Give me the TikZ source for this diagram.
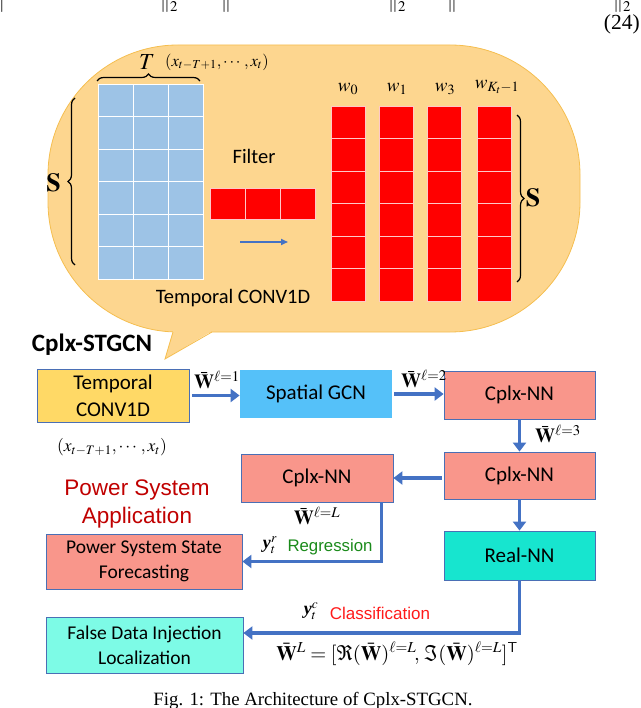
\documentclass[tikz,border=0pt]{standalone}
\usepackage{mathptmx}
\usepackage{amsmath}
\usepackage{fontspec}
\setmainfont{Liberation Serif}
\newfontfamily\calfont{Carlito}
\newfontfamily\arialfont{Liberation Sans}
\usetikzlibrary{arrows.meta,decorations.pathreplacing,calc}
\definecolor{bub}{HTML}{FDD68F}
\definecolor{bubd}{HTML}{F5BE4F}
\definecolor{gridb}{HTML}{9DC3E6}
\definecolor{redl}{HTML}{FFC8C8}
\definecolor{tcfill}{HTML}{FFD966}
\definecolor{sgfill}{HTML}{55C1F9}
\definecolor{cpfill}{HTML}{F9968B}
\definecolor{rnfill}{HTML}{17E5CF}
\definecolor{fdifill}{HTML}{7DFBE6}
\definecolor{boxb}{HTML}{4A6FB5}
\definecolor{arrc}{HTML}{4472C4}
\definecolor{psa}{HTML}{C00000}
\definecolor{reg}{HTML}{1A8A1A}
\definecolor{cls}{HTML}{FF1A1A}
\begin{document}
\begin{tikzpicture}[x=1pt,y=-1pt,
  box/.style={draw=boxb,line width=0.8pt,inner sep=0pt,align=center,font=\calfont\fontsize{21}{27}\selectfont},
  arr/.style={draw=arrc,line width=3.5pt,-{Triangle[length=9pt,width=13pt]}},
  brc/.style={decorate,decoration={brace,amplitude=7pt},line width=1.2pt},
  cell/.style={draw=white,line width=0.8pt},
  rcell/.style={draw=redl,line width=0.8pt,fill=red},
  mlab/.style={inner sep=0pt,font=\fontsize{17}{17}\selectfont},
  wlab/.style={inner sep=0pt,font=\fontsize{20}{20}\selectfont},
  frag/.style={anchor=base west,inner sep=0pt,font=\fontsize{20}{20}\selectfont}]
\useasboundingbox (0,0) rectangle (640,708);
\clip (0,0) rectangle (640,708);
% cut-off fragments at the top
\node[frag] (fa) at (-1,8) {$|$};
\node[frag] (fb) at (160,8) {$\|_2$};
\node[frag] (fc) at (221,8) {$\|$};
\node[frag] (fd) at (388,8) {$\|_2$};
\node[frag] (fe) at (447,8) {$\|$};
\node[frag] (ff) at (613,8) {$\|_2$};
\node[anchor=base east,inner sep=0pt,font=\fontsize{21.5}{22}\selectfont] (eqn) at (640,30) {(24)};
% bubble
\draw[fill=bub,draw=bubd,line width=0.8pt,rounded corners=130pt] (48,45) rectangle (580,332);
\fill[bub] (173,331) -- (165,359) -- (212,331) -- cycle;
\draw[bub,line width=1.8pt] (174.5,332) -- (210.5,332);
\draw[bubd,line width=0.8pt] (173,332) -- (165,359) -- (212,332);
% input grid
\foreach \i in {0,1,2}
  \foreach \j in {0,...,5}
    \draw[cell,fill=gridb] (98+35*\i,84+32.5*\j) rectangle ++(35,32.5);
% filter
\foreach \i in {0,1,2}
  \draw[rcell] (210+35*\i,188) rectangle ++(35,31);
\draw[draw=arrc,line width=1.6pt,-{Triangle[length=7pt,width=6pt]}] (240,242) -- (288,242);
% output columns
\foreach \x in {331,379,427,477}
  \foreach \j in {0,...,5}
    \draw[rcell] (\x,106+32.5*\j) rectangle ++(34,32.5);
% braces
\draw[brc] (75,265) -- (75,98);
\draw[brc] (97,81) -- (200,81);
\draw[brc] (517,115) -- (517,282);
% bubble texts
\node[inner sep=0pt,font=\fontsize{26}{26}\selectfont] (sl) at (53.5,183) {$\mathbf{S}$};
\node[inner sep=0pt,font=\fontsize{26}{26}\selectfont] (sr) at (533,198) {$\mathbf{S}$};
\node[inner sep=0pt,font=\fontsize{23}{23}\selectfont] (tl) at (147,62) {$T$};
\node[inner sep=0pt,font=\fontsize{16.5}{16.5}\selectfont] (xt) at (217,62) {$(x_{t-T+1},\cdots,x_t)$};
\node[inner sep=0pt,font=\fontsize{19}{19}\selectfont] (w0) at (348,89) {$w_0$};
\node[inner sep=0pt,font=\fontsize{19}{19}\selectfont] (w1) at (397,89) {$w_1$};
\node[inner sep=0pt,font=\fontsize{19}{19}\selectfont] (w3) at (445,89) {$w_3$};
\node[inner sep=0pt,font=\fontsize{19}{19}\selectfont] (wk) at (497,87) {$w_{K_t-1}$};
\node[inner sep=0pt,font=\calfont\fontsize{20.5}{20.5}\selectfont] (fl) at (254,156) {Filter};
\node[inner sep=0pt,font=\calfont\fontsize{20.5}{20.5}\selectfont] (tcv) at (233,298) {Temporal CONV1D};
% flow chart
\node[inner sep=0pt,font=\calfont\bfseries\fontsize{25}{25}\selectfont] (title) at (92,345) {Cplx-STGCN};
\node[box,fill=tcfill,minimum width=152pt,minimum height=53pt] (tc) at (113,395.5) {Temporal\\CONV1D};
\node[box,draw=none,fill=sgfill,minimum width=152pt,minimum height=48pt] (sg) at (316,394) {Spatial GCN};
\node[box,fill=cpfill,minimum width=151pt,minimum height=48pt] (c1) at (519.5,395) {Cplx-NN};
\node[box,fill=cpfill,minimum width=151pt,minimum height=47pt] (c2) at (519.5,475.5) {Cplx-NN};
\node[box,fill=cpfill,minimum width=152pt,minimum height=48pt] (c3) at (317,478) {Cplx-NN};
\node[box,fill=rnfill,minimum width=151pt,minimum height=49pt] (rn) at (519.5,555.5) {Real-NN};
\node[box,fill=cpfill,minimum width=196pt,minimum height=55pt,font=\calfont\fontsize{19.5}{25}\selectfont] (ps) at (144,561.5) {Power System State\\Forecasting};
\node[box,fill=fdifill,minimum width=197pt,minimum height=56pt,font=\calfont\fontsize{19.5}{25}\selectfont] (fdi) at (144.5,645) {False Data Injection\\Localization};
\node[inner sep=0pt,align=center,text=psa,font=\arialfont\fontsize{22.5}{28}\selectfont] (psapp) at (137,504) {Power System\\Application};
\node[mlab,font=\fontsize{17.5}{17.5}\selectfont] (xin) at (112,447) {$(x_{t-T+1},\cdots,x_t)$};
% connectors
\draw[arr,shorten <=3pt] (tc.east) -- (tc.east -| sg.west);
\draw[arr,shorten <=2pt] (sg.east) -- (sg.east -| c1.west);
\draw[arr] (c1.south) -- (c2.north);
\draw[arr,shorten <=2pt] (c2.west |- c3.east) -- (c3.east);
\draw[arr] (c2.south) -- (rn.north);
\draw[arr] ($(c3.south east)+(-12,0)$) |- (ps.east);
\draw[arr] (rn.south) |- ($(fdi.east)+(0,-12)$);
% labels
\node[wlab] (l1) at (217,380) {$\bar{\mathbf{W}}^{\ell=1}$};
\node[wlab] (l2) at (424,379) {$\bar{\mathbf{W}}^{\ell=2}$};
\node[wlab] (l3) at (558,434) {$\bar{\mathbf{W}}^{\ell=3}$};
\node[wlab] (lL) at (317,516) {$\bar{\mathbf{W}}^{\ell=L}$};
\node[mlab,font=\fontsize{18}{18}\selectfont] (yr) at (270,545) {$\textbf{\textit{y}}_t^r$};
\node[inner sep=0pt,text=reg,font=\arialfont\fontsize{16.8}{17}\selectfont] (rg) at (330,547) {Regression};
\node[mlab,font=\fontsize{18}{18}\selectfont] (yc) at (311,611) {$\textbf{\textit{y}}_t^c$};
\node[inner sep=0pt,text=cls,font=\arialfont\fontsize{17}{17}\selectfont] (cl) at (380,613) {Classification};
\node[inner sep=0pt,font=\fontsize{20.5}{20.5}\selectfont] (form) at (397,654) {$\bar{\mathbf{W}}^L=[\Re(\bar{\mathbf{W}})^{\ell=L}\!,\,\Im(\bar{\mathbf{W}})^{\ell=L}]^{\mathsf{T}}$};
\node[anchor=base,inner sep=0pt,font=\fontsize{18.8}{19}\selectfont] (cap) at (313,705) {Fig. 1: The Architecture of Cplx-STGCN.};
\end{tikzpicture}
\end{document}
